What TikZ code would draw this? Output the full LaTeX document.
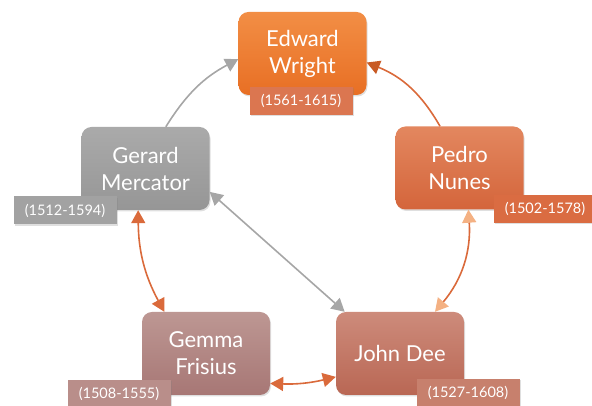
\documentclass[tikz,border=0pt]{standalone}
\usepackage[svgnames]{xcolor}
\usepackage{fontspec}
\setmainfont{Lato}
\usepackage{tikz}
\usetikzlibrary{arrows.meta,shadows,positioning}

\definecolor{WrightTop}{HTML}{F28E45}
\definecolor{WrightBot}{HTML}{E86F24}
\definecolor{WrightTag}{HTML}{DB7650}
\definecolor{MercTop}{HTML}{AAAAAA}
\definecolor{MercBot}{HTML}{969696}
\definecolor{MercTag}{HTML}{A2A2A2}
\definecolor{NunesTop}{HTML}{E3875F}
\definecolor{NunesBot}{HTML}{D4653B}
\definecolor{NunesTag}{HTML}{DA6C42}
\definecolor{FrisTop}{HTML}{BD9793}
\definecolor{FrisBot}{HTML}{A77775}
\definecolor{FrisTag}{HTML}{B98E8A}
\definecolor{DeeTop}{HTML}{CD8B7B}
\definecolor{DeeBot}{HTML}{B96754}
\definecolor{DeeTag}{HTML}{C7806D}
\definecolor{LinkGrey}{HTML}{A6A6A6}
\definecolor{LinkOrange}{HTML}{DA6A3B}
\definecolor{LinkDark}{HTML}{C85A24}
\definecolor{LinkPeach}{HTML}{F4B183}

\tikzset{
	person/.style={rounded corners=10pt, minimum width=128pt, minimum height=83pt, inner sep=0pt, text=white, align=center, font=\fontsize{22}{27}\selectfont, drop shadow={opacity=.25, shadow xshift=1pt, shadow yshift=-1.5pt}},
	years/.style={minimum width=103pt, minimum height=28pt, inner sep=0pt, text=white, font=\fontsize{14.5}{16}\selectfont, drop shadow={opacity=.25, shadow xshift=1pt, shadow yshift=-1.5pt}},
	link/.style={line width=1.6pt},
	oneway/.style={link, -{Triangle[length=13pt,width=14pt]}},
	twoway/.style={link, {Triangle[length=13pt,width=14pt]}-{Triangle[length=13pt,width=14pt]}}
}

\begin{document}
\begin{tikzpicture}[x=1pt,y=1pt]
		\useasboundingbox (0,0) rectangle (592,406);
		\node[person, top color=WrightTop, bottom color=WrightBot] (wright) at (302.5,352.5) {Edward\\Wright};
		\node[person, top color=MercTop, bottom color=MercBot] (mercator) at (145.5,237.5) {Gerard\\Mercator};
		\node[person, top color=NunesTop, bottom color=NunesBot] (nunes) at (459.5,238) {Pedro\\Nunes};
		\node[person, top color=FrisTop, bottom color=FrisBot] (frisius) at (206,52.5) {Gemma\\Frisius};
		\node[person, top color=DeeTop, bottom color=DeeBot] (dee) at (400,52.5) {John Dee};
		\draw[oneway, LinkGrey] (mercator.64) to[bend left=15] (wright.185);
		\draw[oneway, LinkOrange, -{Triangle[length=13pt,width=14pt,color=LinkDark]}] (nunes.115) to[bend right=19] (wright.-8);
		\draw[link, LinkOrange, {Triangle[length=13pt,width=14pt,color=LinkPeach]}-{Triangle[length=13pt,width=14pt,color=LinkPeach]}] (dee.50) to[bend right=22] (nunes.-78);
		\draw[twoway, LinkOrange] (mercator.-100) to[bend right=14] (frisius.135);
		\draw[twoway, LinkOrange] (frisius.-25) to[bend right=8] (dee.-160);
		\draw[twoway, LinkGrey] (mercator.-20) -- (dee.143);
		\node[years, fill=WrightTag] (wrighttag) at (301,305) {(1561-1615)};
		\node[years, fill=MercTag] (mercatortag) at (65,195.5) {(1512-1594)};
		\node[years, fill=NunesTag] (nunestag) at (545,197) {(1502-1578)};
		\node[years, fill=FrisTag] (frisiustag) at (119,12) {(1508-1555)};
		\node[years, fill=DeeTag] (deetag) at (468,13) {(1527-1608)};
	\end{tikzpicture}
\end{document}
